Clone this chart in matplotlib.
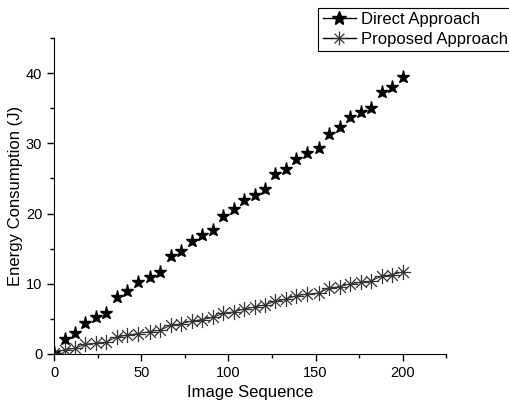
import numpy as np
import matplotlib.pyplot as plt
from matplotlib.path import Path
from matplotlib.lines import Line2D
from matplotlib.ticker import MultipleLocator

plt.rcParams['font.family'] = ['Liberation Sans', 'DejaVu Sans']

# --- DATA ---
image_seq = [0, 6, 12, 18, 24, 30, 36, 42, 48, 55, 61, 67, 73, 79, 85, 91, 97,
             103, 109, 115, 121, 127, 133, 139, 145, 152, 158, 164, 170, 176,
             182, 188, 194, 200]
direct = [0.1, 2.2, 3.0, 4.4, 5.2, 5.9, 8.1, 8.9, 10.2, 11.0, 11.7, 13.9, 14.7,
          16.1, 16.9, 17.6, 19.7, 20.6, 21.9, 22.7, 23.5, 25.6, 26.4, 27.8,
          28.6, 29.3, 31.4, 32.3, 33.7, 34.4, 35.1, 37.3, 38.1, 39.5]
proposed = [0.2, 0.6, 0.8, 1.4, 1.5, 1.7, 2.4, 2.7, 2.9, 3.2, 3.4, 4.1, 4.3,
            4.7, 4.9, 5.2, 5.8, 6.0, 6.4, 6.7, 7.0, 7.5, 7.8, 8.3, 8.5, 8.7,
            9.4, 9.6, 10.0, 10.2, 10.4, 11.1, 11.3, 11.7]

# 8-arm asterisk marker (Origin style)
verts, codes = [], []
for ang in np.deg2rad([0, 45, 90, 135]):
    dx, dy = np.cos(ang), np.sin(ang)
    verts += [(-dx, -dy), (dx, dy)]
    codes += [Path.MOVETO, Path.LINETO]
asterisk = Path(verts, codes)

fig = plt.figure(figsize=(5.1, 4.05), dpi=100)
ax = fig.add_axes([0.106, 0.126, 0.769, 0.780])

ax.plot(image_seq, direct, linestyle='none', color='black', marker='*',
        markersize=9.5)
ax.plot(image_seq, proposed, color='black', linewidth=0.6, marker=asterisk,
        markersize=11, markeredgewidth=0.9, markeredgecolor='#333333')

ax.set_xlim(0, 225)
ax.set_ylim(0, 45)
ax.xaxis.set_major_locator(MultipleLocator(50))
ax.xaxis.set_minor_locator(MultipleLocator(25))
ax.yaxis.set_major_locator(MultipleLocator(10))
ax.yaxis.set_minor_locator(MultipleLocator(5))
ax.tick_params(which='major', direction='out', length=5, width=1, labelsize=10.5)
ax.tick_params(which='minor', direction='out', length=3, width=1)
ax.spines['top'].set_visible(False)
ax.spines['right'].set_visible(False)

ax.set_xlabel('Image Sequence', fontsize=12)
ax.set_ylabel('Energy Consumption (J)', fontsize=12, labelpad=2)

handles = [
    Line2D([], [], color='black', linewidth=1, marker='*', markersize=10),
    Line2D([], [], color='black', linewidth=1, marker=asterisk, markersize=10,
           markeredgewidth=0.9, markeredgecolor='#333333'),
]
labels = ['Direct Approach', 'Proposed Approach']
leg = ax.legend(handles, labels, loc='upper right',
                bbox_to_anchor=(1.0 + 2 / 510, 1 - 8 / 405),
                bbox_transform=fig.transFigure, fontsize=12, frameon=True,
                fancybox=False, edgecolor='black', framealpha=1,
                borderpad=0.25, labelspacing=0.3, handlelength=2.0,
                handletextpad=0.3, borderaxespad=0)
leg.get_frame().set_linewidth(0.8)

fig.savefig('out.png', dpi=100)
